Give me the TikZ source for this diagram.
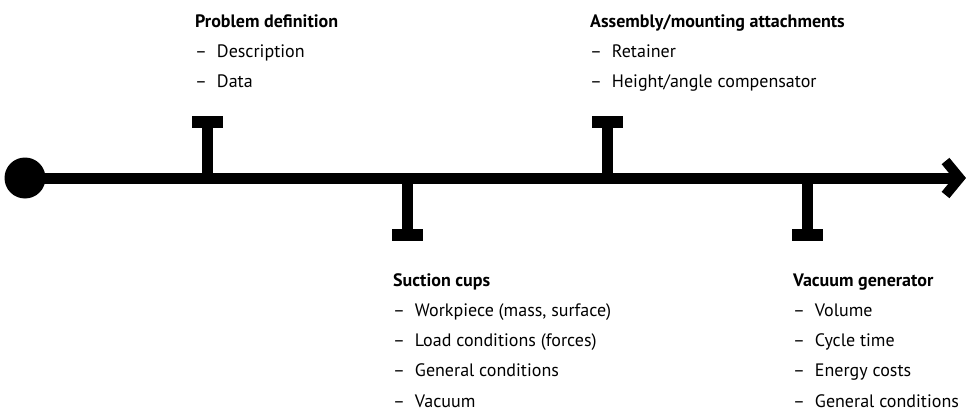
\documentclass[tikz,border=0pt]{standalone}
\usepackage{fontspec}
\setmainfont{PT Sans}
\usetikzlibrary{arrows.meta}

\newcommand{\dashitem}{\textendash\hspace{0.55em}}

\tikzset{
    axis line/.style={line width=11pt, -{Straight Barb[length=14pt, width=34pt, line width=10pt]}},
    tick bar/.style={line width=11pt, -{Rectangle[length=12pt, width=31pt]}},
    label block/.style={anchor=base west, inner sep=0pt, align=left,
        font=\fontsize{18}{30.2}\selectfont}
}

\begin{document}
\begin{tikzpicture}[x=1pt, y=-1pt]
                \useasboundingbox (0,0) rectangle (966,412);

                % Time line
                \node[circle, fill=black, minimum size=41pt, inner sep=0pt] (start) at (25,178) {};
                \coordinate (end) at (966,178);
                \draw[axis line] (start.center) -- (end);

                % Ticks on the line
                \coordinate (t1) at (207.5,178);
                \coordinate (t2) at (407.5,178);
                \coordinate (t3) at (607.5,178);
                \coordinate (t4) at (807,178);
                \draw[tick bar] (t1) -- (207.5,116);
                \draw[tick bar] (t2) -- (407.5,241);
                \draw[tick bar] (t3) -- (607.5,116);
                \draw[tick bar] (t4) -- (807,241);

                % Labels (anchored at the baseline of their last line)
                \node[label block] (problem) at (195,88) {\textbf{Problem definition}\\
                    \dashitem Description\\
                    \dashitem Data};
                \node[label block] (assembly) at (590,88) {\textbf{Assembly/mounting attachments}\\
                    \dashitem Retainer\\
                    \dashitem Height/angle compensator};
                \node[label block] (suction) at (393,407) {\textbf{Suction cups}\\
                    \dashitem Workpiece (mass, surface)\\
                    \dashitem Load conditions (forces)\\
                    \dashitem General conditions\\
                    \dashitem Vacuum};
                \node[label block] (generator) at (793,407) {\textbf{Vacuum generator}\\
                    \dashitem Volume\\
                    \dashitem Cycle time\\
                    \dashitem Energy costs\\
                    \dashitem General conditions};
            \end{tikzpicture}
\end{document}
